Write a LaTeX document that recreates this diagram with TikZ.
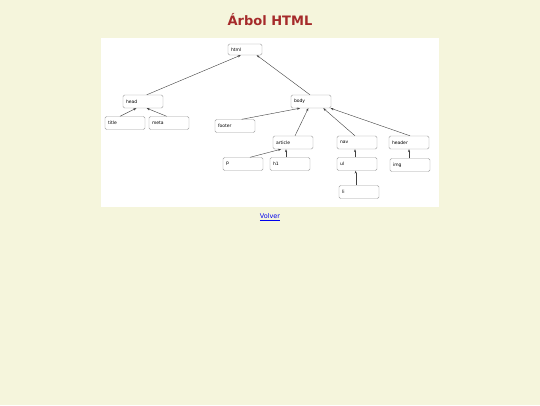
\documentclass[tikz,border=0pt]{standalone}
\usepackage{fontspec}
\setmainfont{DejaVu Sans}
\usepackage{xcolor}
\usetikzlibrary{arrows.meta}

\definecolor{pagebg}{RGB}{245,245,220}
\definecolor{titlered}{RGB}{165,42,42}
\definecolor{linkblue}{RGB}{0,0,238}

\tikzset{
  tag/.style={draw=gray!75, fill=white, rounded corners=1.5pt, line width=0.4pt,
    minimum width=40pt, minimum height=13pt, text width=34pt, align=left,
    inner xsep=3pt, inner ysep=0pt, font=\fontsize{4.5}{5}\selectfont},
  link/.style={-{Stealth[length=3pt,width=2.2pt]}, black!75, line width=0.4pt}
}

\begin{document}
\begin{tikzpicture}[x=1pt,y=-1pt]
				\fill[pagebg] (0,0) rectangle (540,405);
				\useasboundingbox (0,0) rectangle (540,405);
				\fill[white] (101,38) rectangle (439,207);
				\node[font=\bfseries\fontsize{13}{15}\selectfont, text=titlered] (title-text) at (270,20) {Árbol HTML};
				
				\node[tag, minimum width=34pt, text width=28pt, minimum height=11pt] (html) at (245,49.5) {html};
				\foreach \name/\x/\y in {
					head/143/101.5, body/311/101.5,
					title/125/123, meta/169/123, footer/235/126,
					article/293/142.5, nav/357/142.5, header/409/142.5,
					p/243/164, h1/290/164, ul/357/164, img/410/165,
					li/359/192
				}
				{
					\node[tag] (\name) at (\x,\y) {\name};
				}
				
				% child -> parent, with shifts along the borders
				\foreach \child/\cs/\parent/\ps in {
					head/3.7/html/-4.3, body/-1/html/11.7,
					title/-5/head/-6.7, meta/-2.3/head/3.7,
					footer/6.7/body/-11, article/2/body/-2.7,
					nav/-2/body/12.3, header/1/body/19.5,
					p/7/article/-12, h1/-4/article/-7,
					ul/-2/nav/-2, li/-3.3/ul/-1.3, img/-1/header/0
				}
				{
					\draw[link] ([xshift=\cs pt]\child.north) -- ([xshift=\ps pt]\parent.south);
				}
				
				\node[font=\fontsize{6.5}{8}\selectfont, text=linkblue] (volver) at (270,217.5) {\underline{Volver}};
			\end{tikzpicture}
\end{document}
